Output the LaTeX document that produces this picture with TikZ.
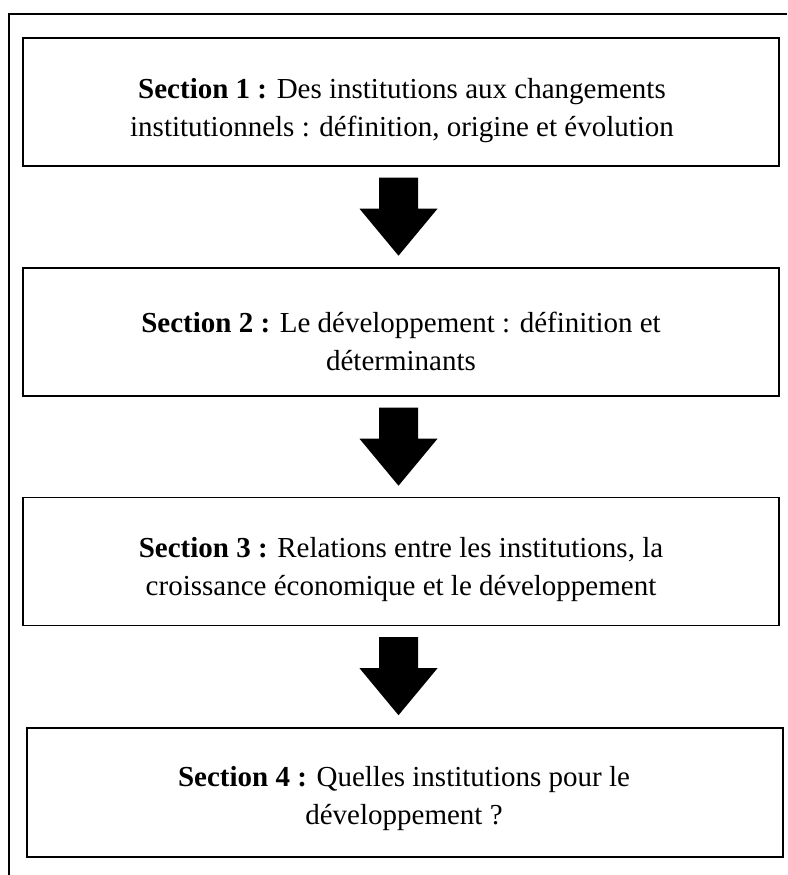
\documentclass[tikz,border=0pt]{standalone}
\usepackage{fontspec}
\setmainfont{Liberation Serif}
\usetikzlibrary{calc,positioning}

\begin{document}
\begin{tikzpicture}[x=1pt,y=1pt,
    boite/.style={draw,line width=1.4pt,minimum width=756pt,minimum height=128pt,inner sep=0pt},
    texte/.style={align=center,font=\fontsize{29}{38}\selectfont},
    fleche/.style={fill=black}]

  \useasboundingbox (0,0) rectangle (787,-875);

  %-------------------- cadre --------------------
  \draw[line width=1.4pt] (787,-14) -- (9,-14) -- (9,-875);

  %-------------------- sections --------------------
  \node[boite] (s1) at (401,-102) {};
  \node[boite] (s2) at (401,-332) {};
  \node[boite] (s3) at (401,-561.5) {};
  \node[boite,minimum height=129pt] (s4) at (405,-792.5) {};

  \node[texte] (t1) at ($(s1)+(1,-9)$)
    {\textbf{Section 1 :} Des institutions aux changements\\
     institutionnels : définition, origine et évolution};
  \node[texte] (t2) at ($(s2)+(0,-9)$)
    {\textbf{Section 2 :} Le développement : définition et\\
     déterminants};
  \node[texte] (t3) at ($(s3)+(0,-8)$)
    {\textbf{Section 3 :} Relations entre les institutions, la\\
     croissance économique et le développement};
  \node[texte] (t4) at ($(s4)+(-1,-6)$)
    {\textbf{Section 4 :} Quelles institutions pour le\\
     développement ?};

  %-------------------- flèches --------------------
  \foreach \a/\b in {s1/s2,s2/s3,s3/s4}{
    \fill[fleche] ($(\a.south)+(-22,-11)$) -- ++(39,0) -- ++(0,-31)
      -- ++(19.5,0) -- ++(-39,-47) -- ++(-39,47) -- ++(19.5,0) -- cycle;
  }

\end{tikzpicture}
\end{document}
